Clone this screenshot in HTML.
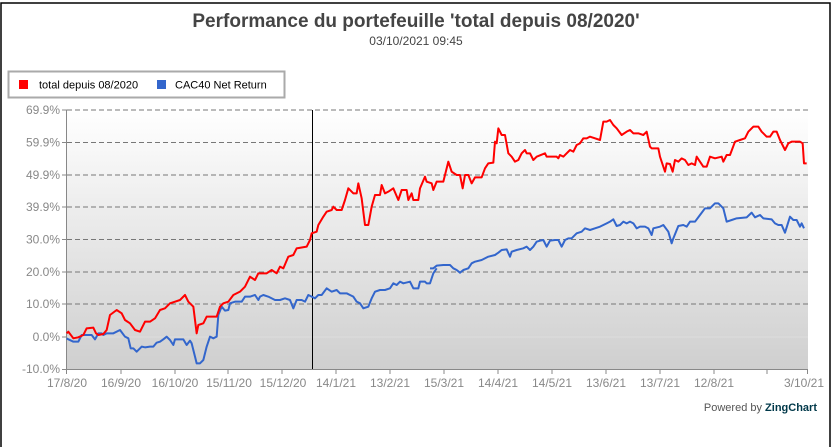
<!DOCTYPE html>
<html><head><style>
html,body{margin:0;padding:0;background:#fff;}
body{width:832px;height:447px;overflow:hidden;position:relative;font-family:"Liberation Sans",sans-serif;}
</style></head><body>
<svg width="832" height="447" xmlns="http://www.w3.org/2000/svg" style="position:absolute;left:0;top:0">
<defs><linearGradient id="bg" x1="0" y1="0" x2="0" y2="1"><stop offset="0" stop-color="#ffffff"/><stop offset="1" stop-color="#cfcfcf"/></linearGradient></defs>
<rect x="1" y="3" width="829" height="450" fill="none" stroke="#000" stroke-width="1.5"/>
<text x="416" y="27" text-anchor="middle" font-size="19" font-weight="bold" fill="#444">Performance du portefeuille 'total depuis 08/2020'</text>
<text x="416" y="45" text-anchor="middle" font-size="12" fill="#444">03/10/2021 09:45</text>
<rect x="8.5" y="71.5" width="276" height="26" fill="#fff" stroke="#aaa" stroke-width="2"/>
<rect x="19" y="80" width="9" height="9" fill="#ff0000"/>
<text x="39" y="88.5" font-size="11" fill="#000">total depuis 08/2020</text>
<rect x="157" y="80" width="9" height="9" fill="#3366cc"/>
<text x="175" y="88.5" font-size="11" fill="#000">CAC40 Net Return</text>
<rect x="67" y="110" width="741" height="259" fill="url(#bg)"/>
<g stroke="#777" stroke-dasharray="5,3" stroke-width="1">
<line x1="67" x2="808" y1="110" y2="110"/><line x1="67" x2="808" y1="142.5" y2="142.5"/><line x1="67" x2="808" y1="175" y2="175"/><line x1="67" x2="808" y1="207" y2="207"/><line x1="67" x2="808" y1="239.5" y2="239.5"/><line x1="67" x2="808" y1="272" y2="272"/><line x1="67" x2="808" y1="304" y2="304"/>
</g>
<line x1="67" x2="808" y1="337" y2="337" stroke="#ddd"/>
<g stroke="#888" stroke-width="1">
<line x1="66.5" x2="66.5" y1="110" y2="374"/>
<line x1="62" x2="808" y1="369.5" y2="369.5"/>
<line x1="62" x2="67" y1="110" y2="110"/><line x1="62" x2="67" y1="142.5" y2="142.5"/><line x1="62" x2="67" y1="175" y2="175"/><line x1="62" x2="67" y1="207" y2="207"/><line x1="62" x2="67" y1="239.5" y2="239.5"/><line x1="62" x2="67" y1="272" y2="272"/><line x1="62" x2="67" y1="304" y2="304"/><line x1="62" x2="67" y1="337" y2="337"/>
<line x1="121" x2="121" y1="369" y2="374"/><line x1="175" x2="175" y1="369" y2="374"/><line x1="228" x2="228" y1="369" y2="374"/><line x1="282" x2="282" y1="369" y2="374"/><line x1="336" x2="336" y1="369" y2="374"/><line x1="390" x2="390" y1="369" y2="374"/><line x1="444" x2="444" y1="369" y2="374"/><line x1="498" x2="498" y1="369" y2="374"/><line x1="552" x2="552" y1="369" y2="374"/><line x1="606" x2="606" y1="369" y2="374"/><line x1="660" x2="660" y1="369" y2="374"/><line x1="714" x2="714" y1="369" y2="374"/><line x1="767" x2="767" y1="369" y2="374"/><line x1="807.5" x2="807.5" y1="369" y2="374"/>
</g>
<g font-size="12" fill="#888" text-anchor="end">
<text x="60" y="114">69.9%</text><text x="60" y="146.5">59.9%</text><text x="60" y="179">49.9%</text><text x="60" y="211">39.9%</text><text x="60" y="243.5">30.0%</text><text x="60" y="276">20.0%</text><text x="60" y="308">10.0%</text><text x="60" y="341">0.0%</text><text x="60" y="373">-10.0%</text>
</g>
<g font-size="12" fill="#888" text-anchor="middle">
<text x="67" y="387">17/8/20</text><text x="121" y="387">16/9/20</text><text x="175" y="387">16/10/20</text><text x="229" y="387">15/11/20</text><text x="283" y="387">15/12/20</text><text x="336" y="387">14/1/21</text><text x="390" y="387">13/2/21</text><text x="444" y="387">15/3/21</text><text x="498" y="387">14/4/21</text><text x="552" y="387">14/5/21</text><text x="606" y="387">13/6/21</text><text x="660" y="387">13/7/21</text><text x="714" y="387">12/8/21</text><text x="804" y="387">3/10/21</text>
</g>
<line x1="312.5" x2="312.5" y1="110" y2="369" stroke="#000" stroke-width="1"/>
<g transform="translate(60,100) scale(0.33333)" fill="none" stroke-linejoin="round">
<polyline vector-effect="non-scaling-stroke" stroke-width="2" stroke="#3366cc" points="20,715 25,718 40,725 55,725 65,705 80,705 95,705 105,718 115,700 125,700 130,705 140,700 160,700 180,690 195,710 205,715 212,745 220,745 230,755 245,740 255,742 270,740 280,740 290,728 300,725 310,718 320,710 330,720 340,735 345,718 360,718 370,718 380,735 390,722 395,730 405,770 410,790 420,790 430,780 440,740 450,710 460,715 470,710 475,645 485,620 495,632 505,630 510,610 525,605 545,605 555,590 570,590 585,585 595,600 600,590 610,585 625,590 645,600 660,600 675,595 690,600 700,625 710,600 725,600 735,605 745,585 755,590 765,595 775,585 785,585 800,565 815,575 830,570 840,580 850,580 860,580 870,585 880,590 890,605 900,610 910,625 925,620 935,595 945,575 960,570 975,570 990,565 1000,550 1010,555 1020,545 1030,550 1050,545 1060,565 1075,565 1080,545 1095,545 1100,550 1110,550 1120,520 1130,505"/>
<polyline vector-effect="non-scaling-stroke" stroke-width="2" stroke="#ff0000" points="20,700 25,695 40,715 55,712 70,705 80,685 100,683 108,700 115,705 130,702 140,690 150,645 170,630 185,640 195,660 210,670 225,690 240,695 255,665 270,665 285,655 300,630 315,625 330,610 345,605 360,600 375,585 385,605 400,620 405,660 410,700 415,675 430,670 440,650 455,650 470,650 480,620 490,610 505,605 520,585 540,575 555,560 570,530 585,540 595,520 620,520 635,510 650,520 660,500 670,505 685,470 700,465 710,445 740,440 750,420 755,400 770,395 775,375 790,350 800,335 815,330 820,320 830,330 845,330 855,300 865,265 880,280 890,280 895,250 905,295 915,375 925,375 935,320 945,285 960,285 965,255 975,280 985,275 1000,265 1015,300 1025,270 1040,270 1045,300 1055,280 1060,300 1075,300 1080,265 1095,230 1100,245 1115,250 1120,270 1130,245 1140,245"/>
</g>
<g transform="translate(430,100) scale(0.33333)" fill="none" stroke-linejoin="round">
<polyline vector-effect="non-scaling-stroke" stroke-width="2" stroke="#3366cc" points="0,505 10,505 20,497 40,495 60,495 70,505 80,510 90,518 100,510 115,505 125,490 135,485 155,480 175,470 195,465 205,458 215,450 230,448 240,470 245,455 260,450 280,445 290,440 300,450 310,440 320,425 330,422 340,420 350,440 360,422 375,420 385,420 395,440 405,420 415,415 425,415 440,400 455,395 465,385 480,390 495,385 510,380 520,375 530,370 540,365 550,358 560,378 570,375 580,365 590,370 600,365 610,370 620,385 630,380 645,380 655,385 665,405 670,385 690,380 700,375 715,395 725,430 730,415 745,378 760,375 770,380 780,365 795,365 810,345 825,325 840,325 855,310 865,310 880,325 890,365 905,360 920,355 950,352 965,338 975,352 990,345 1000,355 1025,358 1035,370 1045,375 1055,375 1065,398 1080,350 1090,360 1100,360 1110,380 1115,370 1122,385"/>
<polyline vector-effect="non-scaling-stroke" stroke-width="2" stroke="#ff0000" points="30,245 40,245 55,185 65,215 80,225 90,225 98,265 105,225 115,225 125,250 135,232 155,232 165,205 175,190 190,188 195,125 200,130 205,85 215,105 225,105 235,160 245,170 255,185 265,180 275,160 285,150 290,160 300,160 310,180 320,170 345,160 350,170 380,170 385,175 390,165 400,170 410,160 420,150 430,155 440,135 450,130 460,115 470,115 480,110 495,115 510,120 520,65 530,65 540,60 550,75 560,85 575,105 590,95 600,90 610,100 625,100 640,105 650,95 660,140 665,145 685,145 690,170 700,200 705,215 710,190 720,192 728,215 735,180 745,185 755,175 765,180 775,195 785,190 795,195 800,170 810,185 820,200 830,200 840,170 855,175 875,170 880,185 890,165 900,165 915,125 930,120 945,115 955,95 970,80 985,80 995,95 1010,110 1020,110 1030,95 1040,95 1050,120 1065,150 1075,130 1085,125 1110,125 1118,130 1122,190 1130,190"/>
</g>
<text x="817" y="411" text-anchor="end" font-size="11" fill="#555">Powered by <tspan font-weight="bold" fill="#003849">ZingChart</tspan></text>
</svg>
</body></html>
